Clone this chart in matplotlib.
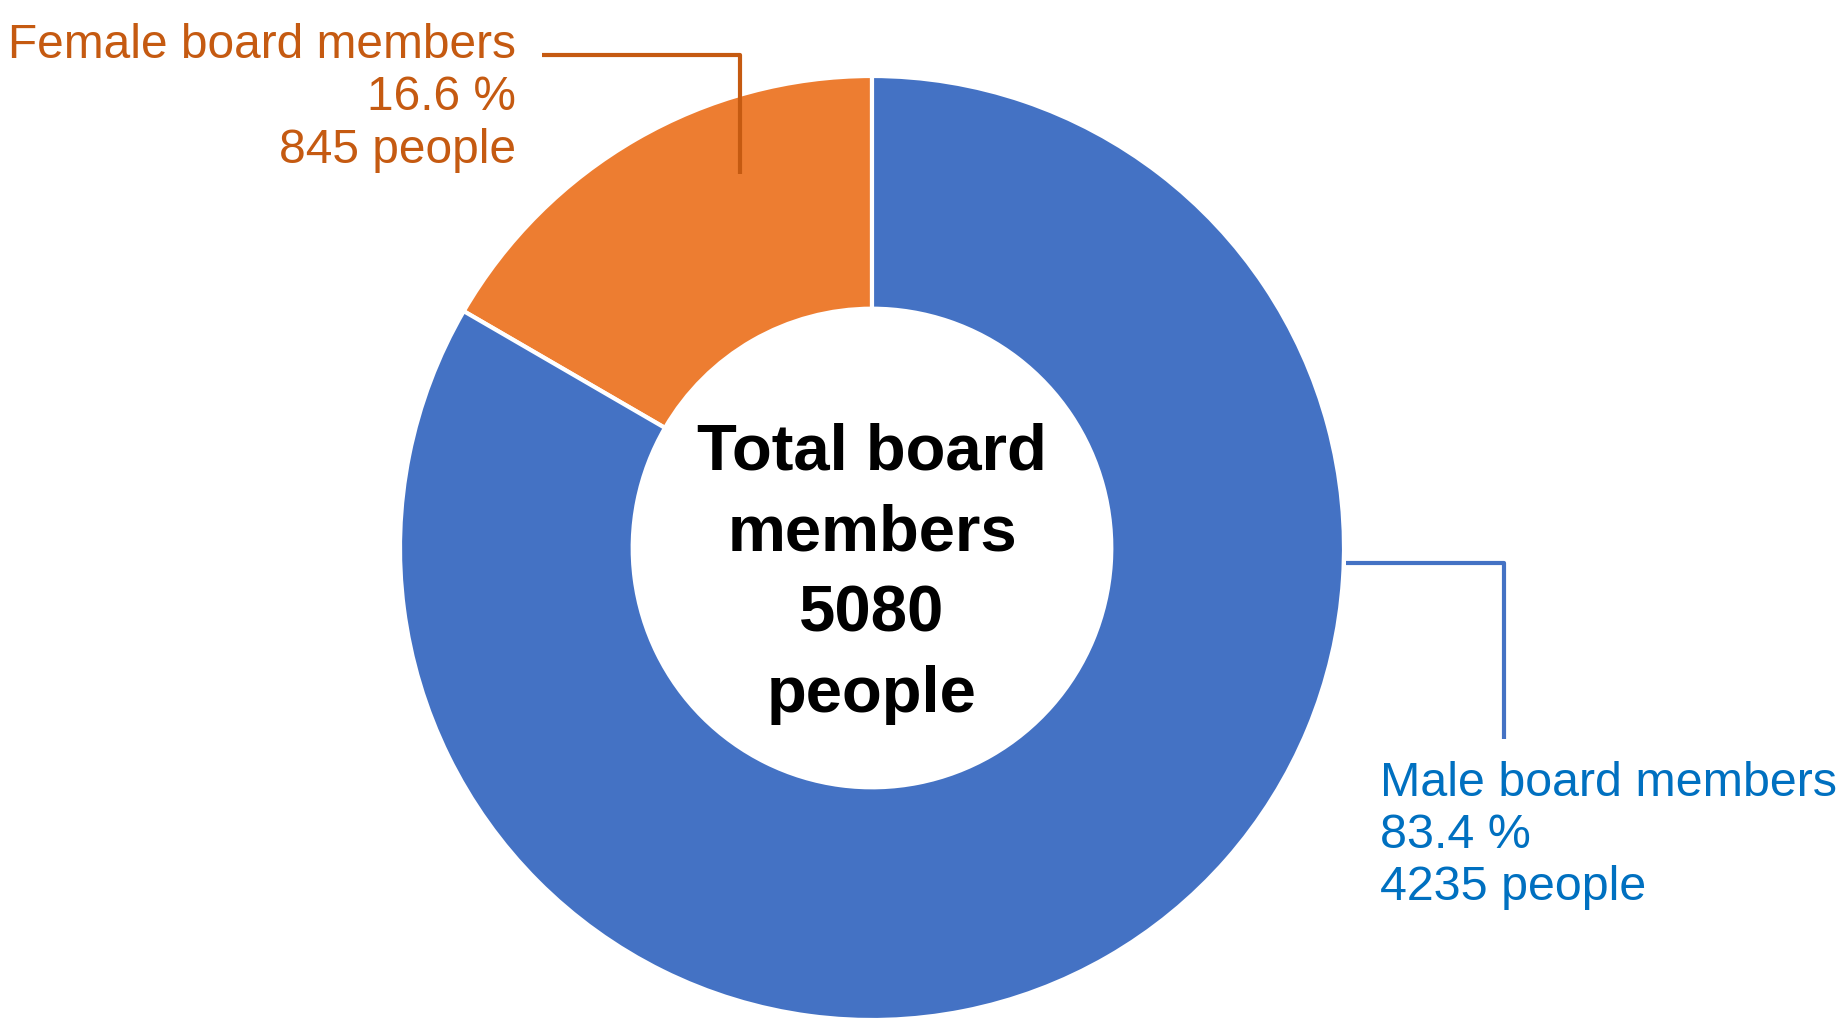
import matplotlib.pyplot as plt

labels = ['Female board members', 'Male board members']
people = [845, 4235]
colors = ['#ED7D31', '#4472C4']
text_colors = ['#C55A11', '#0070C0']

total = sum(people)
shares = [100 * p / total for p in people]

fig = plt.figure(figsize=(18.47, 10.34), dpi=100)
ax = fig.add_axes([0, 0, 1, 1])

# donut, female slice starts at 12 o'clock going counter-clockwise
ax.pie(people, colors=colors, startangle=90, counterclock=True,
       center=(872, 486), radius=472, frame=True,
       wedgeprops=dict(width=472 * 0.493, edgecolor='white', linewidth=3))
ax.set_xlim(0, 1847)
ax.set_ylim(0, 1034)
ax.set_aspect('equal')
ax.axis('off')

ax.text(872, 460, f'Total board\nmembers\n{total}\npeople', ha='center', va='center',
        fontsize=47, fontweight='bold', family='Liberation Sans', linespacing=1.44,
        color='black')

# female label + leader
ax.plot([542, 740, 740], [979, 979, 860], color=text_colors[0], lw=3, solid_capstyle='butt')
ax.text(516, 936, f'{labels[0]}\n{shares[0]:.1f} %\n{people[0]} people',
        ha='right', va='center', multialignment='right', fontsize=34.5,
        family='Liberation Sans', color=text_colors[0], linespacing=1.22)

# male label + leader
ax.plot([1346, 1504, 1504], [471, 471, 295], color=colors[1], lw=3, solid_capstyle='butt')
ax.text(1380, 198, f'{labels[1]}\n{shares[1]:.1f} %\n{people[1]} people',
        ha='left', va='center', multialignment='left', fontsize=34.8,
        family='Liberation Sans', color=text_colors[1], linespacing=1.2)

fig.savefig('out.png', dpi=100)
